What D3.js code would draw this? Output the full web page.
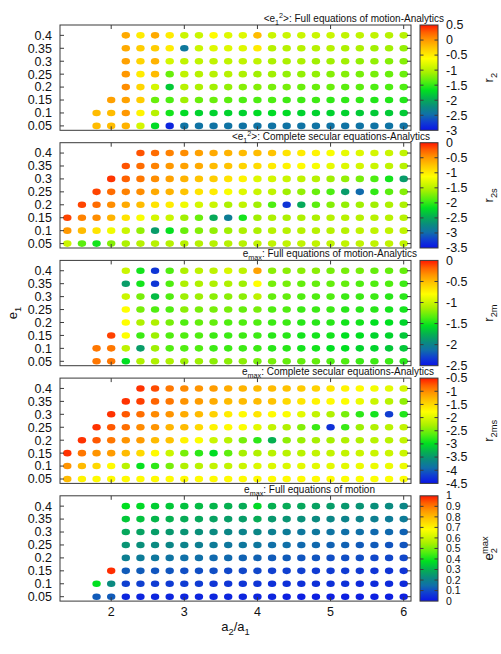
<!DOCTYPE html>
<html><head><meta charset="utf-8">
<script src="https://cdn.jsdelivr.net/npm/d3@7"></script>
<style>body{margin:0;background:#fff} svg{display:block;font-family:"Liberation Sans",Arial,Helvetica,sans-serif}</style>
</head><body><svg id="c" width="501" height="654"></svg>
<script>
// ---------------- data ----------------
const a2a1 = [1.4,1.6,1.8,2.0,2.2,2.4,2.6,2.8,3.0,3.2,3.4,3.6,3.8,4.0,4.2,4.4,4.6,4.8,5.0,5.2,5.4,5.6,5.8,6.0];
const e1 = [0.4,0.35,0.3,0.25,0.2,0.15,0.1,0.05];
const xTicks = [2,3,4,5,6];
const yTicks = [0.05,0.1,0.15,0.2,0.25,0.3,0.35,0.4];

// panel 1: <e1^2> full equations of motion - analytics (r2)
const r2Start = [2.2,2.2,2.2,2.2,2.2,2.0,1.8,1.8];
const r2 = [
 [-0.1,-0.5,-0.1,-0.5,-0.9,-0.9,-0.6,-0.8,-0.8,-0.2,-0.9,-0.9,-0.9,-0.9,-0.9,-0.95,-0.95,-0.95,-1.0,-1.0],
 [-0.1,-0.3,-0.3,-0.5,-2.4,-0.9,-0.8,-0.8,-0.8,-0.5,-1.0,-1.0,-1.0,-1.0,-1.0,-1.05,-1.05,-1.1,-1.1,-1.15],
 [-0.05,-0.35,-0.15,-0.85,-0.95,-0.95,-0.95,-0.95,-0.95,-0.95,-1.05,-1.05,-1.05,-1.1,-1.1,-1.1,-1.15,-1.15,-1.2,-1.2],
 [0.0,-0.5,-0.2,-1.3,-0.95,-1.0,-1.0,-1.0,-1.05,-1.1,-1.1,-1.15,-1.15,-1.15,-1.2,-1.2,-1.25,-1.25,-1.3,-1.3],
 [0.05,-0.35,-0.85,-1.8,-1.0,-1.05,-1.1,-1.15,-1.2,-1.2,-1.25,-1.25,-1.3,-1.3,-1.3,-1.35,-1.35,-1.4,-1.4,-1.4],
 [-0.05,-0.05,-0.3,-1.3,-1.4,-1.1,-1.3,-1.3,-1.35,-1.4,-1.4,-1.4,-1.45,-1.45,-1.45,-1.5,-1.5,-1.5,-1.55,-1.55,-1.55],
 [-0.2,-0.2,0.0,-0.55,-1.0,-1.6,-1.7,-1.75,-1.75,-1.75,-1.75,-1.7,-1.7,-1.7,-1.75,-1.75,-1.75,-1.75,-1.8,-1.8,-1.8,-1.8],
 [-0.2,-0.2,-0.15,-0.85,-1.7,-2.9,-2.45,-2.45,-2.45,-2.45,-2.45,-2.45,-2.45,-2.45,-2.45,-2.45,-2.45,-2.45,-2.45,-2.45,-2.45,-2.45]
];
const r2Ticks = [0.5,0,-0.5,-1,-1.5,-2,-2.5,-3];

// panel 2: <e1^2> complete secular equations - analytics (r2s)
const r2sStart = [2.4,2.2,2.0,1.8,1.6,1.4,1.4,1.4];
const r2s = [
 [-0.2,-0.3,-0.4,-0.45,-0.55,-0.6,-0.65,-0.7,-0.7,-0.75,-0.95,-1.0,-1.05,-1.15,-1.25,-1.3,-1.35,-1.4,-1.45],
 [-0.2,-0.3,-0.4,-0.5,-0.55,-0.6,-0.7,-0.75,-0.85,-0.9,-1.0,-1.05,-1.1,-1.15,-1.25,-1.3,-1.35,-1.4,-1.45,-1.5],
 [-0.1,-0.25,-0.35,-0.45,-0.55,-0.65,-0.75,-0.8,-0.95,-1.05,-1.3,-1.35,-1.4,-1.45,-1.5,-1.6,-1.65,-1.75,-1.9,-2.1,-2.6],
 [-0.15,-0.3,-0.4,-0.45,-0.6,-0.65,-0.75,-0.95,-1.0,-1.15,-1.3,-1.4,-1.45,-1.6,-1.65,-1.8,-1.9,-2.6,-3.0,-2.0,-1.85,-1.7],
 [-0.15,-0.3,-0.45,-0.6,-0.7,-0.95,-1.0,-1.2,-1.35,-1.4,-1.55,-1.45,-1.6,-1.9,-3.3,-2.5,-1.85,-1.7,-1.65,-1.6,-1.6,-1.55,-1.55],
 [-0.15,-0.4,-0.45,-0.65,-0.95,-1.15,-1.35,-1.4,-1.6,-1.8,-2.5,-2.85,-2.1,-1.6,-1.55,-1.55,-1.55,-1.55,-1.5,-1.5,-1.5,-1.5,-1.5,-1.5],
 [-0.5,-0.7,-0.95,-1.2,-1.4,-1.65,-2.6,-2.15,-1.8,-1.7,-1.65,-1.6,-1.55,-1.55,-1.5,-1.5,-1.5,-1.5,-1.5,-1.5,-1.45,-1.45,-1.45,-1.45],
 [-1.4,-1.85,-2.1,-1.7,-1.55,-1.5,-1.5,-1.5,-1.5,-1.5,-1.5,-1.5,-1.5,-1.45,-1.45,-1.45,-1.45,-1.45,-1.45,-1.45,-1.45,-1.45,-1.45,-1.45]
];
const r2sTicks = [0,-0.5,-1,-1.5,-2,-2.5,-3,-3.5];

// panel 3: e_max full equations of motion - analytics (r2m)
const r2mStart = [2.2,2.2,2.2,2.2,2.2,2.0,1.8,1.8];
const r2m = [
 [-1.0,-1.5,-2.35,-1.35,-1.1,-1.05,-1.05,-0.95,-1.05,-0.4,-1.2,-1.2,-1.2,-1.2,-1.25,-1.25,-1.25,-1.3,-1.3,-1.3],
 [-1.85,-1.5,-2.35,-1.35,-1.1,-1.1,-1.1,-1.1,-1.15,-0.8,-1.25,-1.25,-1.3,-1.3,-1.3,-1.3,-1.35,-1.35,-1.35,-1.4],
 [-1.0,-1.25,-1.7,-1.35,-1.15,-1.15,-1.2,-1.2,-1.2,-1.05,-1.3,-1.3,-1.35,-1.35,-1.35,-1.4,-1.4,-1.4,-1.45,-1.45],
 [-0.8,-1.25,-1.35,-1.35,-1.2,-1.25,-1.25,-1.25,-1.3,-1.25,-1.35,-1.35,-1.4,-1.4,-1.4,-1.45,-1.45,-1.45,-1.5,-1.5],
 [-0.8,-1.1,-1.1,-1.25,-1.35,-1.3,-1.3,-1.35,-1.35,-1.35,-1.4,-1.4,-1.45,-1.45,-1.45,-1.5,-1.5,-1.55,-1.55,-1.6],
 [-0.1,-0.8,-1.4,-1.15,-1.35,-1.35,-1.35,-1.4,-1.4,-1.4,-1.4,-1.45,-1.45,-1.5,-1.5,-1.5,-1.55,-1.55,-1.6,-1.6,-1.65],
 [-0.25,-0.25,-1.05,-1.85,-1.15,-1.35,-1.35,-1.35,-1.4,-1.4,-1.4,-1.4,-1.45,-1.45,-1.5,-1.5,-1.55,-1.55,-1.6,-1.6,-1.65,-1.65],
 [-0.25,-0.25,-1.55,-1.1,-1.1,-1.1,-1.15,-1.15,-1.2,-1.2,-1.2,-1.25,-1.25,-1.3,-1.3,-1.3,-1.35,-1.35,-1.4,-1.4,-1.4,-1.45]
];
const r2mTicks = [0,-0.5,-1,-1.5,-2,-2.5];

// panel 4: e_max complete secular equations - analytics (r2ms)
const r2msStart = [2.4,2.2,2.0,1.8,1.6,1.4,1.4,1.4];
const r2ms = [
 [-0.6,-0.7,-0.9,-1.0,-1.05,-1.1,-1.2,-1.25,-1.3,-1.3,-1.35,-1.4,-1.45,-1.6,-1.7,-1.75,-1.85,-1.95,-2.05],
 [-0.6,-0.65,-0.8,-0.9,-1.05,-1.1,-1.2,-1.3,-1.3,-1.3,-1.35,-1.5,-1.6,-1.7,-1.75,-1.8,-1.9,-2.1,-2.2,-2.4],
 [-0.6,-0.75,-0.85,-1.0,-1.05,-1.2,-1.3,-1.45,-1.65,-1.75,-1.6,-1.75,-1.8,-1.95,-2.15,-2.25,-2.5,-2.8,-2.9,-4.2,-2.85],
 [-0.6,-0.75,-0.85,-1.0,-1.05,-1.25,-1.3,-1.5,-1.7,-1.75,-1.8,-1.95,-2.15,-2.25,-2.45,-2.75,-4.3,-2.75,-2.35,-2.25,-2.2,-2.15],
 [-0.6,-0.75,-0.9,-1.05,-1.1,-1.3,-1.35,-1.7,-1.8,-2.1,-2.2,-2.5,-2.8,-3.3,-2.4,-2.35,-2.3,-2.3,-2.25,-2.25,-2.2,-2.2,-2.15],
 [-0.6,-0.9,-1.05,-1.1,-1.3,-1.5,-1.75,-2.1,-2.5,-2.8,-3.0,-2.6,-2.3,-2.25,-2.2,-2.2,-2.2,-2.15,-2.15,-2.15,-2.1,-2.1,-2.1,-2.1],
 [-1.05,-1.3,-1.5,-1.75,-2.2,-2.95,-2.8,-2.5,-2.25,-2.2,-2.15,-2.15,-2.1,-2.0,-2.0,-2.0,-1.95,-1.95,-1.95,-1.95,-1.9,-1.9,-1.9,-1.9],
 [-1.3,-1.7,-1.75,-1.75,-1.75,-1.75,-1.75,-1.75,-1.75,-1.75,-1.75,-1.75,-1.75,-1.75,-1.75,-1.75,-1.75,-1.75,-1.75,-1.8,-1.8,-1.8,-1.8,-1.8]
];
const r2msTicks = [-0.5,-1,-1.5,-2,-2.5,-3,-3.5,-4,-4.5];

// panel 5: e_max full equations of motion (e2max)
const e2maxStart = [2.2,2.2,2.2,2.2,2.2,2.0,1.8,1.8];
const e2max = [
 [0.38,0.37,0.35,0.34,0.33,0.32,0.31,0.3,0.29,0.37,0.3,0.29,0.28,0.27,0.26,0.25,0.24,0.23,0.22,0.21],
 [0.34,0.33,0.31,0.3,0.29,0.28,0.27,0.26,0.26,0.29,0.25,0.24,0.23,0.22,0.21,0.2,0.2,0.19,0.18,0.18],
 [0.28,0.27,0.26,0.25,0.24,0.23,0.22,0.21,0.2,0.21,0.19,0.18,0.17,0.17,0.16,0.15,0.15,0.14,0.14,0.13],
 [0.24,0.23,0.22,0.21,0.2,0.19,0.18,0.17,0.17,0.17,0.15,0.15,0.14,0.14,0.13,0.13,0.12,0.12,0.11,0.11],
 [0.19,0.18,0.17,0.16,0.15,0.15,0.14,0.14,0.13,0.13,0.12,0.12,0.11,0.11,0.1,0.1,0.1,0.09,0.09,0.09],
 [0.98,0.12,0.12,0.11,0.11,0.1,0.1,0.1,0.09,0.09,0.09,0.08,0.08,0.08,0.07,0.07,0.07,0.07,0.06,0.06,0.06],
 [0.38,0.22,0.08,0.08,0.07,0.07,0.07,0.07,0.06,0.06,0.06,0.06,0.05,0.05,0.05,0.05,0.05,0.05,0.04,0.04,0.04,0.04],
 [0.12,0.12,0.03,0.03,0.03,0.03,0.03,0.03,0.03,0.03,0.03,0.03,0.03,0.02,0.02,0.02,0.02,0.02,0.02,0.02,0.02,0.02]
];
const e2maxTicks = [0,0.1,0.2,0.3,0.4,0.5,0.6,0.7,0.8,0.9,1];

// colour map stops (position 0..1 -> colour)
const cmapPos = [0,0.08,0.15,0.22,0.30,0.38,0.46,0.55,0.62,0.68,0.78,0.86,0.93,1];
const cmapCol = ["#0a14e6","#1040d0","#1070a8","#0a8a80","#05b050","#00e020","#50ee10","#a8f000","#d8f800","#ffff00","#ffc800","#ff9600","#ff6000","#ff1800"];

// ---------------- layout ----------------
const svg = d3.select("#c");
const plotL = 60, plotR = 411, plotH = 105.3, panelStep = 117.7, firstTop = 25;
const cbL = 420, cbR = 438;
const frame = "#3a3a3a";
const fs = 12.5;

const x = d3.scaleLinear().domain([1.3, 6.1]).range([plotL, plotR]);
const cmap = d3.scaleLinear().domain(cmapPos).range(cmapCol).interpolate(d3.interpolateRgb).clamp(true);

function rich(sel, parts, size){
  let cur = 0;
  parts.forEach(p => {
    const [t, kind] = p;
    let shift = 0, s = size, dx = 0;
    if (kind === "sub") { shift = 0.3*size; s = 0.72*size; }
    if (kind === "sup") { shift = -0.42*size; s = 0.72*size; }
    if (kind === "supback") { shift = -0.42*size; s = 0.72*size; dx = -p[2]; }
    const ts = sel.append("tspan").attr("font-size", s).text(t);
    if (shift - cur !== 0) ts.attr("dy", shift - cur);
    if (dx) ts.attr("dx", dx);
    cur = shift;
  });
}

const panels = [
  {start:r2Start, vals:r2, dom:[-3,0.5], ticks:r2Ticks, titleEnd:444, cbFs:fs,
   title:[["<e"],["1","sub"],["2","sup"],[">: Full equations of motion-Analytics"]],
   label:[["r"],["2","sub"]]},
  {start:r2sStart, vals:r2s, dom:[-3.5,0], ticks:r2sTicks, titleEnd:430, cbFs:fs,
   title:[["<e"],["1","sub"],["2","sup"],[">: Complete secular equations-Analytics"]],
   label:[["r"],["2s","sub"]]},
  {start:r2mStart, vals:r2m, dom:[-2.5,0], ticks:r2mTicks, titleEnd:417, cbFs:fs,
   title:[["e"],["max","sub"],[": Full equations of motion-Analytics"]],
   label:[["r"],["2m","sub"]]},
  {start:r2msStart, vals:r2ms, dom:[-4.5,-0.5], ticks:r2msTicks, titleEnd:434, cbFs:fs,
   title:[["e"],["max","sub"],[": Complete secular equations-Analytics"]],
   label:[["r"],["2ms","sub"]]},
  {start:e2maxStart, vals:e2max, dom:[0,1], ticks:e2maxTicks, titleEnd:375, cbFs:10.5,
   title:[["e"],["max","sub"],[": Full equations of motion"]],
   label:[["e"],["2","sub"],["max","supback",6]]}
];

const defs = svg.append("defs");
const grad = defs.append("linearGradient").attr("id","cm").attr("x1",0).attr("y1",1).attr("x2",0).attr("y2",0);
cmapPos.forEach((p,i)=> grad.append("stop").attr("offset",p).attr("stop-color",cmapCol[i]));

panels.forEach((P, pi) => {
  const top = firstTop + pi*panelStep, bot = top + plotH;
  const y = d3.scaleLinear().domain([0.033, 0.44]).range([bot, top]);
  const g = svg.append("g");

  const pts = [];
  P.vals.forEach((row, ri) => {
    const i0 = a2a1.indexOf(P.start[ri]);
    row.forEach((v, k) => pts.push({a: a2a1[i0+k], e: e1[ri], v}));
  });
  const norm = v => (v - P.dom[0])/(P.dom[1]-P.dom[0]);
  g.selectAll("ellipse").data(pts).join("ellipse")
    .attr("cx", d => x(d.a)).attr("cy", d => y(d.e))
    .attr("rx", 4.2).attr("ry", 3.3)
    .attr("fill", d => cmap(norm(d.v)));

  g.append("rect").attr("x", plotL).attr("y", top).attr("width", plotR-plotL).attr("height", plotH)
    .attr("fill","none").attr("stroke",frame).attr("stroke-width",1);

  yTicks.forEach(t => {
    const yy = y(t);
    g.append("line").attr("x1",plotL).attr("x2",plotL+4).attr("y1",yy).attr("y2",yy).attr("stroke",frame);
    g.append("line").attr("x1",plotR).attr("x2",plotR-4).attr("y1",yy).attr("y2",yy).attr("stroke",frame);
    g.append("text").attr("x",52).attr("y",yy).attr("dy","0.35em").attr("text-anchor","end")
      .attr("font-size",fs).attr("fill","#111").text(String(t));
  });
  xTicks.forEach(t => {
    const xx = x(t);
    g.append("line").attr("x1",xx).attr("x2",xx).attr("y1",bot).attr("y2",bot-4).attr("stroke",frame);
    g.append("line").attr("x1",xx).attr("x2",xx).attr("y1",top).attr("y2",top+4).attr("stroke",frame);
    if (pi === panels.length-1)
      g.append("text").attr("x",xx).attr("y",bot+15).attr("text-anchor","middle")
        .attr("font-size",fs).attr("fill","#111").text(t);
  });

  const tt = g.append("text").attr("x", P.titleEnd).attr("y", top-3).attr("text-anchor","end")
    .attr("font-size",10).attr("fill","#111");
  rich(tt, P.title, 10);

  const cy = d3.scaleLinear().domain(P.dom).range([bot, top]);
  g.append("rect").attr("x",cbL).attr("y",top).attr("width",cbR-cbL).attr("height",plotH)
    .attr("fill","url(#cm)").attr("stroke",frame).attr("stroke-width",1);
  P.ticks.forEach(t => {
    const yy = cy(t);
    if (t !== P.dom[0] && t !== P.dom[1]) {
      g.append("line").attr("x1",cbL).attr("x2",cbL+3.5).attr("y1",yy).attr("y2",yy).attr("stroke",frame);
      g.append("line").attr("x1",cbR).attr("x2",cbR-3.5).attr("y1",yy).attr("y2",yy).attr("stroke",frame);
    }
    g.append("text").attr("x",446).attr("y",yy).attr("dy","0.35em")
      .attr("font-size",P.cbFs).attr("fill","#111").text(String(t));
  });
  const lab = g.append("text").attr("transform",`translate(493,${(top+bot)/2}) rotate(-90)`)
    .attr("text-anchor","middle").attr("font-size",13).attr("fill","#111");
  rich(lab, P.label, 13);
});

const yl = svg.append("text").attr("transform",`translate(17,${firstTop+2*panelStep+plotH/2}) rotate(-90)`)
  .attr("text-anchor","middle").attr("font-size",13).attr("fill","#111");
rich(yl, [["e"],["1","sub"]], 13);
const xl = svg.append("text").attr("x",(plotL+plotR)/2).attr("y",631).attr("text-anchor","middle")
  .attr("font-size",13).attr("fill","#111");
rich(xl, [["a"],["2","sub"],["/a",0],["1","sub"]], 13);
</script></body></html>
